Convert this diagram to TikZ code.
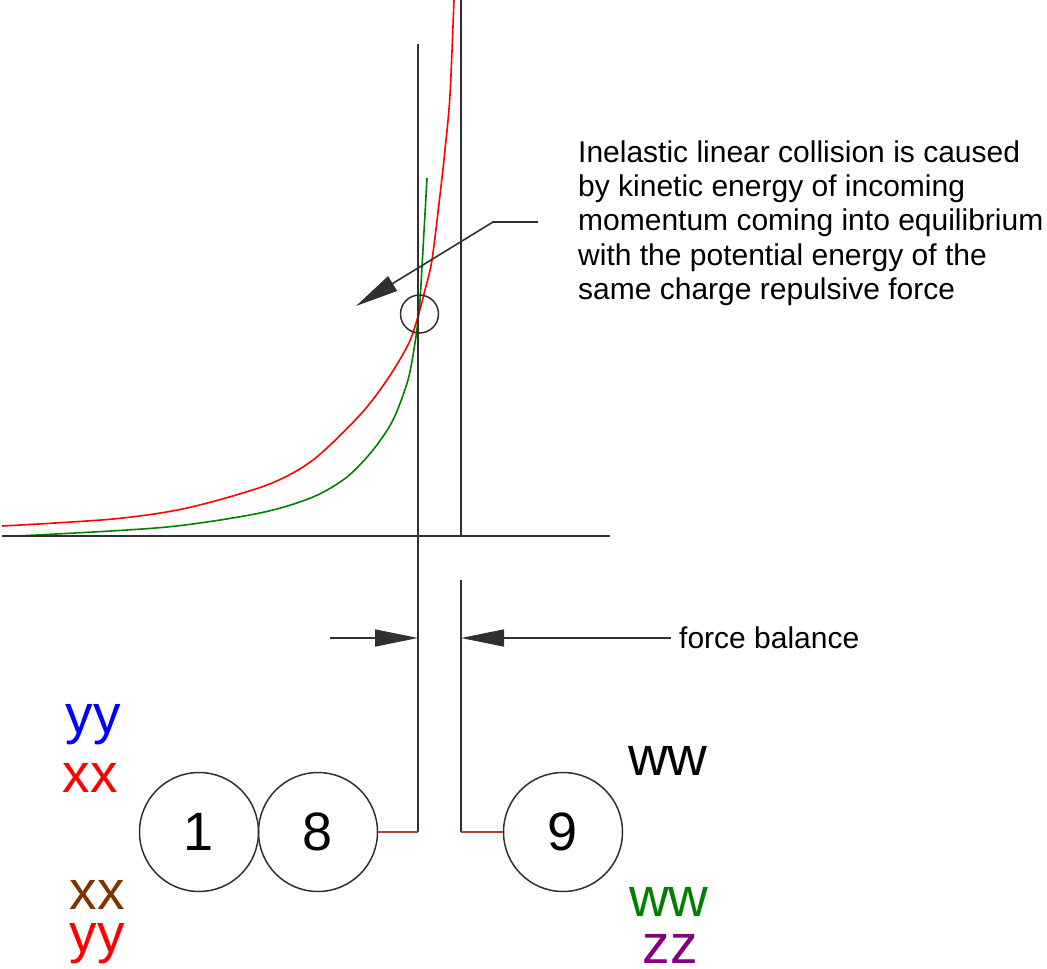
\documentclass[tikz,border=0pt]{standalone}
\usepackage{fontspec}
\setmainfont{Liberation Sans}
\usetikzlibrary{arrows.meta,positioning}
\definecolor{curvered}{HTML}{FF0000}
\definecolor{curvegreen}{HTML}{008000}
\definecolor{linkred}{HTML}{B0402A}
\definecolor{labelblue}{HTML}{0000FF}
\definecolor{labelbrown}{HTML}{7F3300}
\definecolor{labelpurple}{HTML}{800080}
\definecolor{drawgray}{HTML}{303030}
\tikzset{
  ball/.style={
    circle,
    draw=drawgray,
    line width=1.5pt,
    minimum size=119pt,
    inner sep=0pt,
    font=\fontsize{54}{60}\selectfont
  },
  pairlabel/.style={
    anchor=base,
    inner sep=0pt,
    font=\fontsize{55}{60}\selectfont
  },
  note/.style={
    align=left,
    inner sep=0pt,
    font=\fontsize{30}{34.25}\selectfont
  },
  guide/.style={
    draw=drawgray,
    line width=1.6pt
  },
  link/.style={
    draw=linkred,
    line width=1.5pt
  },
  pointer/.style={
    -{Triangle[length=43pt,width=17pt]},
    draw=drawgray,
    line width=1.6pt
  },
  energy/.style={
    line width=1.6pt,
    smooth,
    tension=0.5
  }
}

\begin{document}
\begin{tikzpicture}[x=1pt, y=-1pt]
\useasboundingbox (0,0) rectangle (1047,969);
% curves
\draw[energy, curvered] plot coordinates {(2,526) (113,519) (187,508) (267,485) (313,460) (360,415) (387,380) (408,345) (417,320) (425,290) (432,260) (440,195) (445,150) (450,95) (454,0)};
\draw[energy, curvegreen] plot coordinates {(2,536) (37,535) (167,527) (260,513) (313,497) (347,477) (373,450) (393,420) (408,380) (415,343) (418,320) (420,300) (422,267) (427,178)};
% axis and guide lines
\draw[guide] (2,536) -- (610,536);
\draw[guide] (418,44) -- (418,832);
\draw[guide] (461,0) -- (461,536);
\draw[guide] (461,580) -- (461,832);
% balls
\node[ball] (c1) at (199,832) {1};
\node[ball] (c8) at (318,832) {8};
\node[ball] (c9) at (563,832) {9};
\draw[link] (c8.east) -- (418,832);
\draw[link] (c9.west) -- (461,832);
% focus circle and note
\node[circle, draw=drawgray, line width=1.5pt, minimum size=38pt, inner sep=0pt] (focus) at (419.5,314) {};
\node[note, anchor=west] (note) at (578,223) {Inelastic linear collision is caused\\by kinetic energy of incoming\\momentum coming into equilibrium\\with the potential energy of the\\same charge repulsive force};
\coordinate (lead) at (538,222);
\coordinate (bend) at (493,222);
\coordinate (aim) at (356,306);
\draw[pointer] (lead) -- (bend) -- (aim);
% force balance
\node[note, anchor=west] (fb) at (679,638) {force balance};
\coordinate (push) at (330,638);
\draw[pointer] (push) -- (418,638);
\draw[pointer] (fb.west) ++(-8,0) -- (461,638);
% labels
\node[pairlabel, labelblue] (yy1) at (93,733) {yy};
\node[pairlabel, curvered] (xx1) at (90,792) {xx};
\node[pairlabel, labelbrown] (xx2) at (97,909) {xx};
\node[pairlabel, curvered] (yy2) at (97,952) {yy};
\node[pairlabel, black] (ww1) at (668,775) {ww};
\node[pairlabel, curvegreen] (ww2) at (669,916) {ww};
\node[pairlabel, labelpurple] (zz) at (670,963) {zz};
\end{tikzpicture}
\end{document}
